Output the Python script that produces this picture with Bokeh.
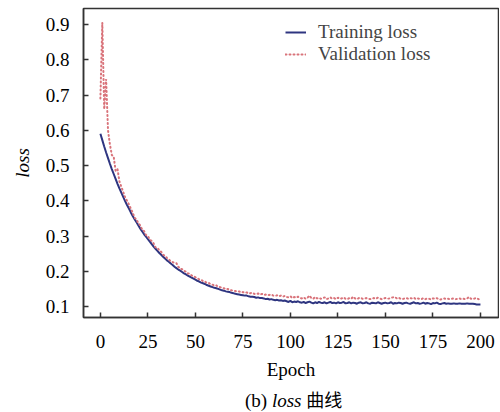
from bokeh.plotting import figure
from bokeh.models import FixedTicker, Legend, LegendItem, Range1d, Div
from bokeh.layouts import column
from bokeh.embed import file_html
from bokeh.resources import INLINE

epochs = list(range(0, 201))

train_loss = [
    0.590, 0.572, 0.554, 0.537, 0.521, 0.505, 0.490, 0.476, 0.462, 0.448,
    0.435, 0.423, 0.411, 0.399, 0.388, 0.378, 0.367, 0.357, 0.348, 0.339,
    0.330, 0.321, 0.313, 0.305, 0.298, 0.291, 0.284, 0.277, 0.270, 0.264,
    0.258, 0.252, 0.247, 0.241, 0.236, 0.231, 0.227, 0.222, 0.218, 0.213,
    0.209, 0.205, 0.202, 0.198, 0.194, 0.191, 0.188, 0.185, 0.182, 0.179,
    0.176, 0.173, 0.171, 0.168, 0.166, 0.164, 0.161, 0.159, 0.157, 0.155,
    0.153, 0.152, 0.150, 0.148, 0.146, 0.145, 0.143, 0.142, 0.141, 0.139,
    0.138, 0.136, 0.135, 0.134, 0.133, 0.132, 0.131, 0.131, 0.129, 0.128,
    0.128, 0.127, 0.125, 0.126, 0.124, 0.124, 0.123, 0.121, 0.122, 0.120,
    0.121, 0.119, 0.118, 0.119, 0.117, 0.118, 0.116, 0.117, 0.115, 0.113,
    0.116, 0.112, 0.114, 0.113, 0.115, 0.112, 0.111, 0.113, 0.110, 0.112,
    0.114, 0.111, 0.109, 0.112, 0.110, 0.113, 0.111, 0.110, 0.112, 0.109,
    0.111, 0.113, 0.110, 0.111, 0.109, 0.112, 0.110, 0.111, 0.113, 0.109,
    0.110, 0.112, 0.109, 0.111, 0.110, 0.108, 0.111, 0.112, 0.109, 0.110,
    0.112, 0.109, 0.108, 0.111, 0.110, 0.109, 0.112, 0.110, 0.108, 0.110,
    0.111, 0.109, 0.110, 0.112, 0.108, 0.110, 0.109, 0.111, 0.110, 0.108,
    0.110, 0.111, 0.109, 0.108, 0.110, 0.112, 0.109, 0.110, 0.108, 0.109,
    0.111, 0.108, 0.110, 0.109, 0.107, 0.110, 0.109, 0.111, 0.108, 0.107,
    0.109, 0.110, 0.108, 0.109, 0.108, 0.108, 0.109, 0.108, 0.108, 0.109,
    0.108, 0.108, 0.108, 0.109, 0.108, 0.108, 0.108, 0.107, 0.106, 0.106,
    0.106,
]

val_loss = [
    0.690, 0.905, 0.660, 0.745, 0.600, 0.560, 0.530, 0.525, 0.485, 0.490,
    0.455, 0.440, 0.425, 0.410, 0.400, 0.390, 0.378, 0.366, 0.352, 0.347,
    0.336, 0.330, 0.318, 0.314, 0.303, 0.300, 0.290, 0.286, 0.279, 0.268,
    0.267, 0.259, 0.255, 0.247, 0.244, 0.238, 0.234, 0.228, 0.226, 0.224,
    0.223, 0.213, 0.207, 0.206, 0.201, 0.199, 0.194, 0.193, 0.188, 0.186,
    0.183, 0.181, 0.177, 0.176, 0.172, 0.171, 0.167, 0.167, 0.163, 0.162,
    0.159, 0.160, 0.156, 0.155, 0.153, 0.152, 0.149, 0.150, 0.147, 0.146,
    0.145, 0.144, 0.142, 0.143, 0.140, 0.141, 0.139, 0.140, 0.137, 0.138,
    0.139, 0.136, 0.135, 0.137, 0.134, 0.136, 0.133, 0.134, 0.132, 0.133,
    0.134, 0.131, 0.130, 0.132, 0.129, 0.131, 0.128, 0.130, 0.127, 0.126,
    0.129, 0.124, 0.127, 0.125, 0.128, 0.124, 0.123, 0.126, 0.122, 0.125,
    0.131, 0.124, 0.122, 0.127, 0.123, 0.125, 0.122, 0.124, 0.126, 0.121,
    0.123, 0.126, 0.122, 0.124, 0.121, 0.125, 0.122, 0.123, 0.126, 0.122,
    0.121, 0.124, 0.122, 0.128, 0.123, 0.121, 0.124, 0.125, 0.122, 0.123,
    0.124, 0.122, 0.121, 0.123, 0.124, 0.122, 0.125, 0.123, 0.121, 0.123,
    0.124, 0.122, 0.123, 0.125, 0.126, 0.127, 0.123, 0.125, 0.122, 0.121,
    0.123, 0.124, 0.122, 0.124, 0.123, 0.125, 0.121, 0.123, 0.122, 0.121,
    0.124, 0.121, 0.123, 0.122, 0.120, 0.123, 0.122, 0.124, 0.121, 0.120,
    0.122, 0.123, 0.121, 0.122, 0.121, 0.122, 0.123, 0.121, 0.122, 0.123,
    0.121, 0.122, 0.121, 0.123, 0.127, 0.122, 0.121, 0.123, 0.124, 0.121,
    0.120,
]

x_ticks = [0, 25, 50, 75, 100, 125, 150, 175, 200]
y_ticks = [0.1, 0.2, 0.3, 0.4, 0.5, 0.6, 0.7, 0.8, 0.9]

series_names = ["Training loss", "Validation loss"]
caption_parts = ["(b)", "loss", "曲线"]

FONT = "Liberation Serif"
CJK = "Noto Sans CJK SC"
AX = "#333333"

p = figure(
    frame_width=415, frame_height=309,
    x_range=Range1d(-8.9, 209.5), y_range=Range1d(0.0689, 0.9455),
    output_backend="svg", toolbar_location=None,
    min_border_left=83, min_border_right=1, min_border_top=8, min_border_bottom=62,
)
p.grid.visible = False
p.background_fill_color = "white"
p.border_fill_color = "white"
p.outline_line_color = AX
p.outline_line_width = 1.5

for ax in (p.xaxis, p.yaxis):
    ax.axis_line_color = AX
    ax.axis_line_width = 1.5
    ax.major_tick_line_color = AX
    ax.major_tick_line_width = 1.5
    ax.major_tick_in = 5
    ax.major_tick_out = 0
    ax.minor_tick_line_color = None
    ax.major_label_text_font = FONT
    ax.major_label_text_font_size = "19px"
    ax.major_label_text_color = "black"
    ax.axis_label_text_font = FONT
    ax.axis_label_text_font_size = "19px"
    ax.axis_label_text_color = "black"

p.xaxis.ticker = FixedTicker(ticks=x_ticks)
p.yaxis.ticker = FixedTicker(ticks=y_ticks)
p.xaxis.major_label_standoff = 17
p.yaxis.major_label_standoff = 14
p.xaxis.axis_label = "Epoch"
p.xaxis.axis_label_text_font_style = "normal"
p.xaxis.axis_label_standoff = 8
p.yaxis.axis_label = "loss"
p.yaxis.axis_label_text_font_style = "italic"
p.yaxis.axis_label_standoff = 10

r_train = p.line(epochs, train_loss, line_color="#2e3580", line_width=2)
r_val = p.line(epochs, val_loss, line_color="#d9737a", line_width=2,
               line_dash="1 3", line_cap="round")

legend = Legend(
    items=[LegendItem(label=series_names[0], renderers=[r_train]),
           LegendItem(label=series_names[1], renderers=[r_val])],
    location=(202, 252),
    label_text_font=FONT, label_text_font_size="19px",
    glyph_width=21, glyph_height=22, label_height=22,
    label_standoff=12, spacing=0, padding=0, margin=0,
    border_line_alpha=0, background_fill_alpha=0,
)
p.add_layout(legend)

caption_html = (
    f'<div style="padding-left:240px;white-space:nowrap;">'
    f'<span style="font-family:\'{FONT}\';">{caption_parts[0]} </span>'
    f'<span style="font-family:\'{FONT}\';font-style:italic;">{caption_parts[1]} </span>'
    f'<span style="font-family:\'{CJK}\';font-size:18px;">{caption_parts[2]}</span>'
    f'</div>'
)
caption = Div(text=caption_html, width=500, height=30,
              styles={"font-size": "19px", "line-height": "24px", "color": "black"})

layout = column(p, caption, spacing=0)

open("out.html", "w").write(file_html(layout, INLINE))
